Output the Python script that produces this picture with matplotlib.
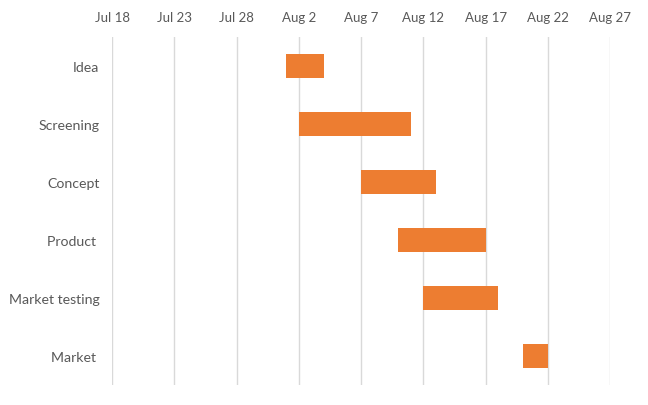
import matplotlib
matplotlib.use("Agg")
import matplotlib.pyplot as plt
import matplotlib.dates as mdates
import datetime as dt

tasks = ["Idea", "Screening", "Concept", "Product ", "Market testing", "Market "]
starts = ["2024-08-01", "2024-08-02", "2024-08-07", "2024-08-10", "2024-08-12", "2024-08-20"]
durations = [3, 9, 6, 7, 6, 2]
tick_dates = ["2024-07-18", "2024-07-23", "2024-07-28", "2024-08-02", "2024-08-07",
              "2024-08-12", "2024-08-17", "2024-08-22", "2024-08-27"]

plt.rcParams['font.family'] = ['Lato', 'DejaVu Sans']

fig = plt.figure(figsize=(6.48, 4.06), dpi=100)
ax = fig.add_axes([112/648, 1-386/406, (610-112)/648, (386-38)/406])

start_nums = [mdates.date2num(dt.date.fromisoformat(s)) for s in starts]
ypos = list(range(len(tasks)))
ax.barh(ypos, durations, left=start_nums, height=0.4, color="#ED7D31", zorder=3)

ticks = [mdates.date2num(dt.date.fromisoformat(s)) for s in tick_dates]
ax.set_xlim(ticks[0], ticks[-1])
ax.set_xticks(ticks)
ax.set_xticklabels([dt.date.fromisoformat(s).strftime("%b %-d") for s in tick_dates])
ax.xaxis.tick_top()
ax.set_ylim(len(tasks) - 0.5, -0.5)
ax.set_yticks(ypos)
ax.set_yticklabels(tasks)

ax.grid(axis="x", color="#D9D9D9", linewidth=1, zorder=0)
for s in ax.spines.values():
    s.set_visible(False)
ax.tick_params(axis="both", length=0, colors="#595959")
ax.tick_params(axis="x", pad=10, labelsize=9.5)
ax.tick_params(axis="y", pad=9, labelsize=10.2)

fig.savefig("out.png", dpi=100)
